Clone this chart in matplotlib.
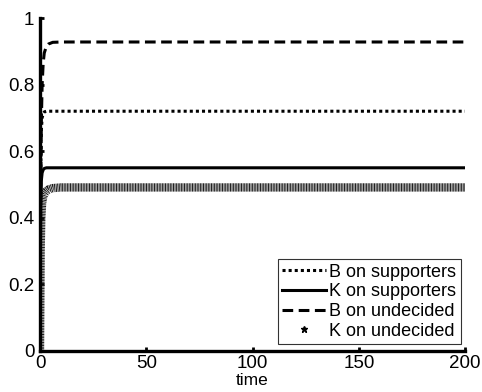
import matplotlib
matplotlib.use("Agg")
import matplotlib.pyplot as plt
from matplotlib.lines import Line2D

plt.rcParams['font.family'] = ['Liberation Sans', 'DejaVu Sans']

time = [0, 0.3, 0.6, 1.0, 1.5, 2.0, 3.0, 4.0, 6.0, 10.0, 200.0]
b_supporters = [0, 0.50, 0.66, 0.700, 0.712, 0.718, 0.720, 0.720, 0.720, 0.720, 0.720]
k_supporters = [0, 0.42, 0.51, 0.535, 0.544, 0.548, 0.550, 0.550, 0.550, 0.550, 0.550]
b_undecided = [0, 0.45, 0.68, 0.80, 0.865, 0.895, 0.915, 0.922, 0.927, 0.928, 0.928]
k_undecided = [0, 0.30, 0.40, 0.445, 0.462, 0.472, 0.480, 0.485, 0.489, 0.491, 0.491]

labels = ['B on supporters', 'K on supporters', 'B on undecided', 'K on undecided']

fig = plt.figure(figsize=(4.82, 3.92), dpi=100)
ax = fig.add_axes([0.083, 0.105, 0.882, 0.849])

ax.plot(time, k_undecided, color='#1a1a1a', lw=6.0, dashes=(0.12, 0.07), solid_capstyle='butt')
ax.plot(time, b_supporters, color='black', lw=2.2, linestyle=(0, (1, 1)))
ax.plot(time, k_supporters, color='black', lw=2.2, linestyle='-')
ax.plot(time, b_undecided, color='black', lw=2.2, linestyle=(0, (3.5, 1.8)))

ax.set_xlim(0, 200)
ax.set_ylim(0, 1)
ax.set_xticks([0, 50, 100, 150, 200])
ax.set_yticks([0, 0.2, 0.4, 0.6, 0.8, 1])
ax.set_yticklabels(['0', '0.2', '0.4', '0.6', '0.8', '1'])
ax.tick_params(direction='in', length=3, width=2, labelsize=13.5)
ax.tick_params(axis='y', pad=4)
ax.tick_params(axis='x', pad=3)
for s in ['top', 'right']:
    ax.spines[s].set_visible(False)
for s in ['left', 'bottom']:
    ax.spines[s].set_linewidth(2.4)
ax.set_xlabel('time', fontsize=12.5, labelpad=0.5)

handles = [
    Line2D([], [], color='black', lw=2.2, linestyle=(0, (1, 1))),
    Line2D([], [], color='black', lw=2.2, linestyle='-'),
    Line2D([], [], color='black', lw=2.2, linestyle=(0, (3.5, 1.8))),
    Line2D([], [], color='black', lw=0, marker='*', markersize=5),
]
leg = ax.legend(handles, labels, loc='lower right', bbox_to_anchor=(0.99, 0.02),
                fontsize=13, frameon=True, fancybox=False, handlelength=2.4,
                handletextpad=0.2, borderpad=0.25, labelspacing=0.15, borderaxespad=0)
leg.get_frame().set_edgecolor('black')
leg.get_frame().set_linewidth(0.8)

fig.savefig('out.png', dpi=100)
